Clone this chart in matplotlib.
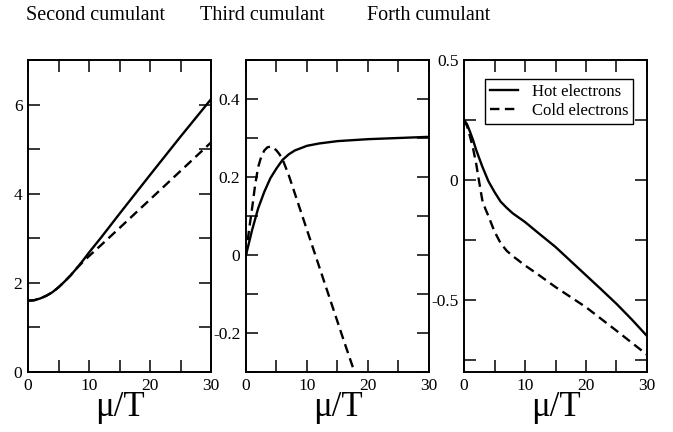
import numpy as np
import matplotlib
matplotlib.use('Agg')
import matplotlib.pyplot as plt
from matplotlib.ticker import MultipleLocator, FuncFormatter

matplotlib.rcParams['font.family'] = ['Liberation Serif', 'DejaVu Serif']

# second cumulant
x2_hot = [0, 1, 2, 3, 4, 5, 6, 7, 8, 9, 10, 12, 15, 20, 25, 30]
y2_hot = [1.6, 1.61, 1.65, 1.71, 1.79, 1.9, 2.03, 2.17, 2.33, 2.5, 2.68, 3.02, 3.55, 4.42, 5.28, 6.12]
x2_cold = [0, 1, 2, 3, 4, 5, 6, 7, 8, 9, 10, 12, 15, 20, 25, 30]
y2_cold = [1.6, 1.61, 1.65, 1.71, 1.79, 1.9, 2.03, 2.17, 2.33, 2.47, 2.6, 2.85, 3.23, 3.87, 4.51, 5.15]

# third cumulant
x3_hot = [0, 1, 2, 3, 4, 5, 6, 7, 8, 10, 12, 15, 20, 25, 30]
y3_hot = [0, 0.064, 0.12, 0.162, 0.197, 0.222, 0.244, 0.258, 0.268, 0.28, 0.286, 0.292, 0.297, 0.300, 0.303]
x3_cold = [0, 0.5, 1, 1.5, 2, 2.5, 3, 3.5, 4, 4.5, 5, 5.5, 6, 7, 8, 10, 12, 14, 16, 18]
y3_cold = [0, 0.065, 0.12, 0.18, 0.226, 0.252, 0.268, 0.276, 0.278, 0.275, 0.268, 0.258, 0.245, 0.205, 0.158, 0.064, -0.03, -0.124, -0.218, -0.31]

# forth cumulant
x4_hot = [0, 0.5, 1, 1.5, 2, 3, 4, 5, 6, 7, 8, 9, 10, 12, 15, 17.5, 20, 22.5, 25, 27.5, 30]
y4_hot = [0.25, 0.232, 0.2, 0.165, 0.125, 0.056, -0.005, -0.05, -0.09, -0.116, -0.139, -0.157, -0.175, -0.217, -0.279, -0.338, -0.397, -0.456, -0.516, -0.581, -0.65]
x4_cold = [0, 0.5, 1, 1.5, 2, 2.5, 3, 3.5, 4, 5, 6, 7, 8, 10, 12, 15, 20, 25, 30]
y4_cold = [0.25, 0.225, 0.18, 0.13, 0.067, -0.01, -0.084, -0.12, -0.15, -0.215, -0.263, -0.295, -0.317, -0.356, -0.391, -0.446, -0.53, -0.628, -0.728]

titles = ['Second cumulant', 'Third cumulant', 'Forth cumulant']
title_x = [95, 262, 429]

fig = plt.figure(figsize=(6.73, 4.32), dpi=100)
W, H = 673.0, 432.0
lefts = [28, 246, 464]
axes = [fig.add_axes([l / W, 60 / H, 183 / W, 312 / H]) for l in lefts]

lw = 1.7
dash = (4, 2.3)

panels = [
    (x2_hot, y2_hot, x2_cold, y2_cold, (0, 7), 2, 1),
    (x3_hot, y3_hot, x3_cold, y3_cold, (-0.3, 0.5), 0.2, 0.1),
    (x4_hot, y4_hot, x4_cold, y4_cold, (-0.8, 0.5), 0.5, 0.25),
]

for ax, (xh, yh, xc, yc, ylim, major, minor) in zip(axes, panels):
    ax.plot(xh, yh, color='black', lw=lw, label='Hot electrons')
    ax.plot(xc, yc, color='black', lw=lw, dashes=dash, label='Cold electrons')
    ax.set_xlim(0, 30)
    ax.set_ylim(*ylim)
    ax.xaxis.set_major_locator(MultipleLocator(10))
    ax.xaxis.set_minor_locator(MultipleLocator(5))
    ax.yaxis.set_major_locator(MultipleLocator(major))
    ax.yaxis.set_minor_locator(MultipleLocator(minor))
    ax.yaxis.set_major_formatter(FuncFormatter(lambda v, p: '%g' % round(v, 2)))
    ax.tick_params(which='both', direction='in', top=True, right=True,
                   length=8.5, width=1.1, labelsize=12.5, pad=4)
    for s in ax.spines.values():
        s.set_linewidth(1.4)
    ax.set_xlabel('\u03bc/T', fontsize=25, labelpad=-2)

leg = axes[2].legend(loc='upper right', bbox_to_anchor=(0.9235, 0.939), borderaxespad=0,
                     fancybox=False, framealpha=1, edgecolor='black', fontsize=12,
                     handlelength=1.7, handletextpad=0.8, borderpad=0.3, labelspacing=0.15)
leg.get_frame().set_linewidth(1.0)

for t, xp in zip(titles, title_x):
    fig.text(xp / W, 1 - 16 / H, t, ha='center', va='center', fontsize=14.5)

fig.savefig('out.png', dpi=100)
